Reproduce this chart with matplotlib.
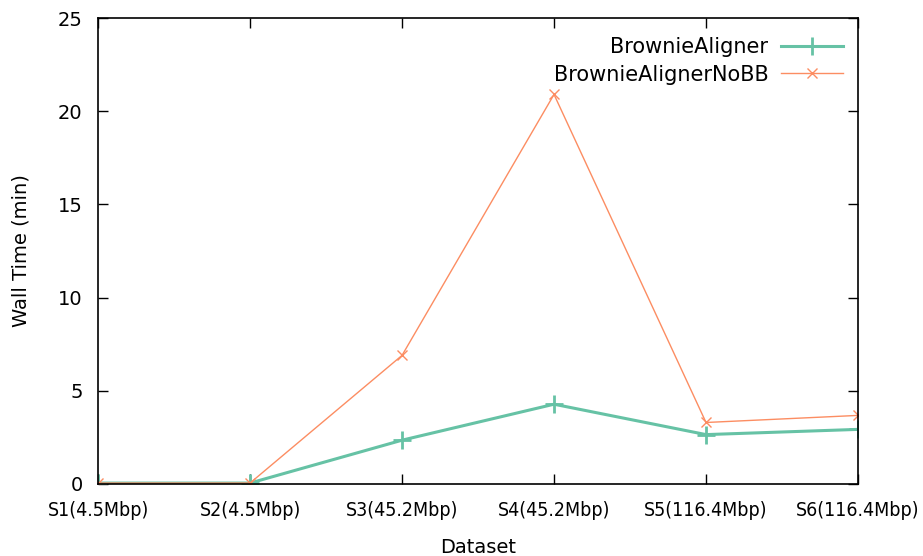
import numpy as np
import matplotlib.pyplot as plt

datasets = ['S1(4.5Mbp)', 'S2(4.5Mbp)', 'S3(45.2Mbp)', 'S4(45.2Mbp)',
            'S5(116.4Mbp)', 'S6(116.4Mbp)']
brownie = [0.05, 0.05, 2.35, 4.28, 2.65, 2.93]
brownie_nobb = [0.05, 0.05, 6.9, 20.9, 3.3, 3.68]

fig = plt.figure(figsize=(9.23, 5.56), dpi=100)
ax = fig.add_axes([0.1062, 0.1295, 0.8234, 0.8381])

x = np.arange(len(datasets))
ax.plot(x, brownie, color='#66c2a5', lw=2.2, marker='+', ms=13, mew=2,
        label='BrownieAligner')
ax.plot(x, brownie_nobb, color='#fc8d62', lw=1.0, marker='x', ms=6.5, mew=1,
        label='BrownieAlignerNoBB')

ax.set_xlim(0, len(datasets) - 1)
ax.set_ylim(0, 25)
ax.set_yticks(np.arange(0, 26, 5))
ax.set_xticks(x)
ax.set_xticklabels(datasets, fontsize=14, fontstretch='condensed')
ax.tick_params(axis='y', labelsize=14, pad=11)
ax.tick_params(direction='in', top=True, right=True, length=7, width=1)
ax.tick_params(axis='x', pad=12)
for s in ax.spines.values():
    s.set_linewidth(1.2)

ax.set_xlabel('Dataset', fontsize=14, labelpad=13)
ax.set_ylabel('Wall Time (min)', fontsize=14, labelpad=20)

ax.legend(loc='upper right', bbox_to_anchor=(1.0, 0.99), frameon=False,
          markerfirst=False, fontsize=15, handlelength=3.0,
          borderaxespad=0.3, labelspacing=0.35, handletextpad=0.6)

fig.savefig('out.png', dpi=100)
